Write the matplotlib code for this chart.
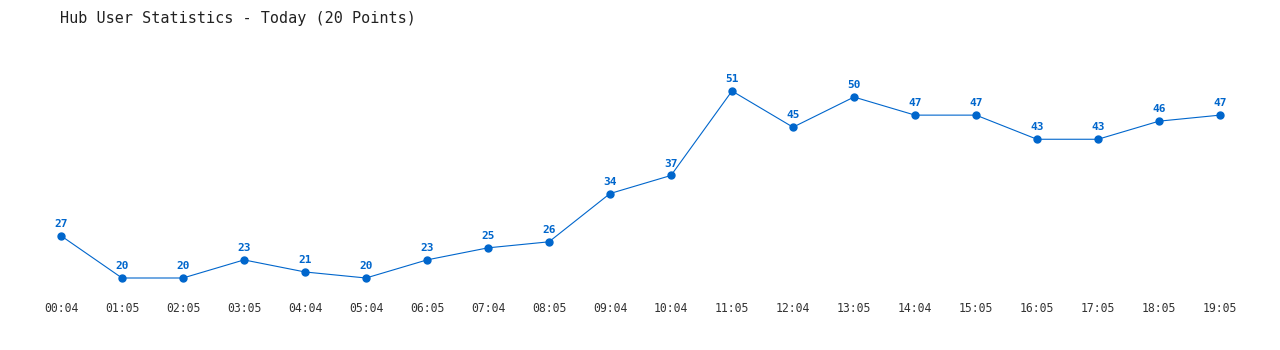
import matplotlib
matplotlib.use("Agg")
import matplotlib.pyplot as plt

times = ["00:04", "01:05", "02:05", "03:05", "04:04", "05:04", "06:05", "07:04", "08:05", "09:04",
         "10:04", "11:05", "12:04", "13:05", "14:04", "15:05", "16:05", "17:05", "18:05", "19:05"]
users = [27, 20, 20, 23, 21, 20, 23, 25, 26, 34, 37, 51, 45, 50, 47, 47, 43, 43, 46, 47]

color = "#0066cc"
mono = ["DejaVu Sans Mono"]

fig = plt.figure(figsize=(12.8, 3.5), dpi=100)
ax = fig.add_axes([61/1280, 72/350, 1159/1280, 187/350])
x = list(range(len(times)))
ax.plot(x, users, color=color, linewidth=0.8, marker="o", markersize=5, clip_on=False)
for xi, v in zip(x, users):
    ax.annotate(str(v), (xi, v), xytext=(0, 5), textcoords="offset points",
                ha="center", va="bottom", color=color, fontsize=8, fontweight="bold", family=mono)
ax.set_xlim(0, len(times) - 1)
ax.set_ylim(20, 51)
ax.set_xticks(x)
ax.set_xticklabels(times, family=mono, fontsize=8.3, color="#333333")
ax.tick_params(axis="x", length=0, pad=17)
ax.set_yticks([])
for s in ax.spines.values():
    s.set_visible(False)
ax.patch.set_visible(False)
fig.text(60/1280, 1 - 18/350, "Hub User Statistics - Today (20 Points)", family=mono,
         fontsize=10.9, color="#222222", ha="left", va="center")
fig.savefig("out.png", dpi=100)
